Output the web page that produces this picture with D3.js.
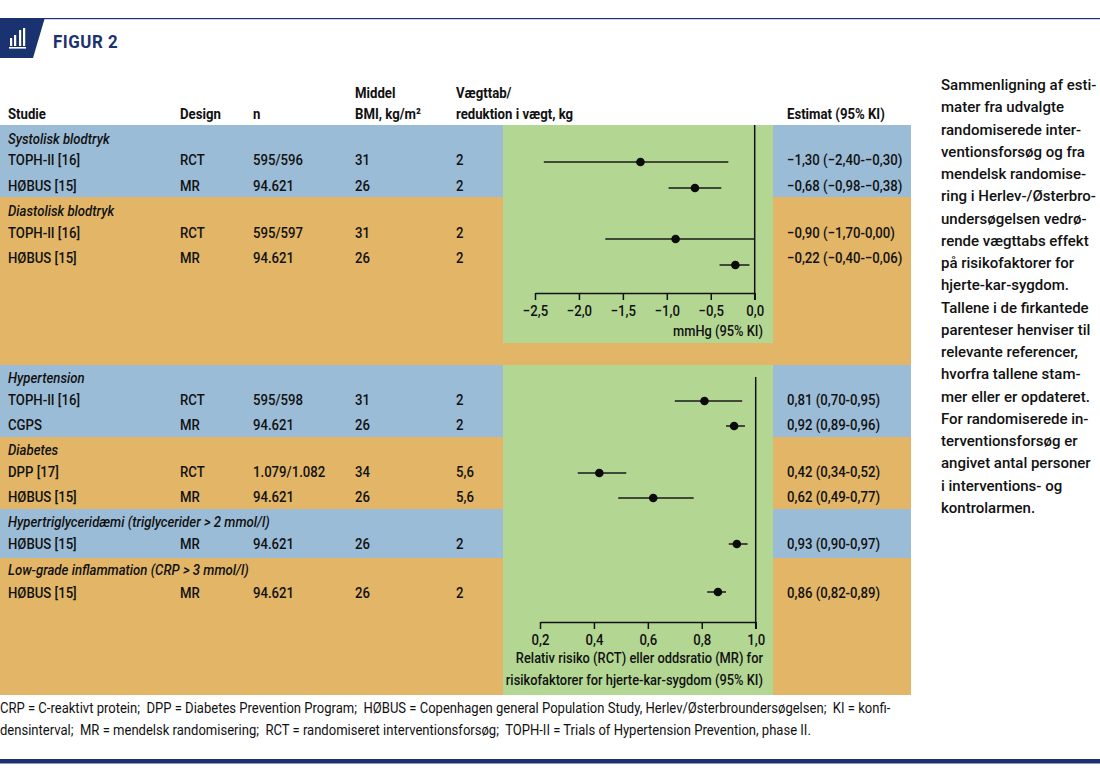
<!DOCTYPE html>
<html>
<head>
<meta charset="utf-8">
<script src="https://cdn.jsdelivr.net/npm/d3@7"></script>
<style>
  html, body { margin: 0; padding: 0; background: #fff; }
  svg { display: block; }
  text { font-family: Roboto, "Liberation Sans", sans-serif; fill: #111; }
</style>
</head>
<body>
<svg></svg>
<script>
// table rows
const rowIds = ["sys", "sys1", "sys2", "dia", "dia1", "dia2", "hyp", "hyp1", "hyp2", "dbt", "dbt1", "dbt2", "tg", "tg1", "crp", "crp1"];
const headings = [
  ["sys", "Systolisk blodtryk"],
  ["dia", "Diastolisk blodtryk"],
  ["hyp", "Hypertension"],
  ["dbt", "Diabetes"],
  ["tg", "Hypertriglyceridæmi (triglycerider > 2 mmol/l)"],
  ["crp", "Low-grade inflammation (CRP > 3 mmol/l)"]
];
const mmRows = ["sys1", "sys2", "dia1", "dia2"];
const riskRows = ["hyp1", "hyp2", "dbt1", "dbt2", "tg1", "crp1"];
const studyRows = mmRows.concat(riskRows);
const studies = ["TOPH-II [16]", "HØBUS [15]", "TOPH-II [16]", "HØBUS [15]", "TOPH-II [16]", "CGPS", "DPP [17]", "HØBUS [15]", "HØBUS [15]", "HØBUS [15]"];
const designs = ["RCT", "MR", "RCT", "MR", "RCT", "MR", "RCT", "MR", "MR", "MR"];
const ns = ["595/596", "94.621", "595/597", "94.621", "595/598", "94.621", "1.079/1.082", "94.621", "94.621", "94.621"];
const bmis = ["31", "26", "31", "26", "31", "26", "34", "26", "26", "26"];
const losses = ["2", "2", "2", "2", "2", "2", "5,6", "5,6", "2", "2"];
const estimateLabels = ["−1,30 (−2,40-−0,30)", "−0,68 (−0,98-−0,38)", "−0,90 (−1,70-0,00)", "−0,22 (−0,40-−0,06)", "0,81 (0,70-0,95)", "0,92 (0,89-0,96)", "0,42 (0,34-0,52)", "0,62 (0,49-0,77)", "0,93 (0,90-0,97)", "0,86 (0,82-0,89)"];

// forest plot values
const mmEst = [-1.30, -0.68, -0.90, -0.22];
const mmLo = [-2.40, -0.98, -1.70, -0.40];
const mmHi = [-0.30, -0.38, 0.00, -0.06];
const riskEst = [0.81, 0.92, 0.42, 0.62, 0.93, 0.86];
const riskLo = [0.70, 0.89, 0.34, 0.49, 0.90, 0.82];
const riskHi = [0.95, 0.96, 0.52, 0.77, 0.97, 0.89];
const mmTicks = [-2.5, -2, -1.5, -1, -0.5, 0];
const riskTicks = [0.2, 0.4, 0.6, 0.8, 1];

const notes = [
  "CRP = C-reaktivt protein;  DPP = Diabetes Prevention Program;  HØBUS = Copenhagen general Population Study, Herlev/Østerbroundersøgelsen;  KI = konfi-",
  "densinterval;  MR = mendelsk randomisering;  RCT = randomiseret interventionsforsøg;  TOPH-II = Trials of Hypertension Prevention, phase II."
];
const sideText = [
  "Sammenligning af esti-", "mater fra udvalgte", "randomiserede inter-", "ventionsforsøg og fra",
  "mendelsk randomise-", "ring i Herlev-/Østerbro-", "undersøgelsen vedrø-", "rende vægttabs effekt",
  "på risikofaktorer for", "hjerte-kar-sygdom.", "Tallene i de firkantede", "parenteser henviser til",
  "relevante referencer,", "hvorfra tallene stam-", "mer eller er opdateret.", "For randomiserede in-",
  "terventionsforsøg er", "angivet antal personer", "i interventions- og", "kontrolarmen."
];

const navy = "#1b3270";
const blue = "#9bbcd7";
const orange = "#e2b567";
const green = "#b3d793";

const svg = d3.select("svg").attr("width", 1100).attr("height", 770);

// no condensed font installed, so the text is squeezed horizontally
const narrow = 0.85;
const place = (sel, x, y, k = narrow) => sel
  .attr("transform", (d, i) => `translate(${typeof x === "function" ? x(d, i) : x},${typeof y === "function" ? y(d, i) : y}) scale(${k},1)`);

// text baselines and marker centres per row
const rowY = d3.scaleOrdinal()
  .domain(rowIds)
  .range([144, 165, 191, 216, 238, 263, 383, 405, 430, 455, 477, 502, 527, 549, 575, 598]);
const markY = d3.scaleOrdinal()
  .domain(studyRows)
  .range([162, 188, 239, 265, 401, 426, 473, 498, 544, 592]);

const col = { study: 8, design: 180, n: 253, bmi: 355, loss: 456, est: 787 };

// top header
svg.append("rect").attr("x", 0).attr("y", 18).attr("width", 1100).attr("height", 1.2).attr("fill", navy);
svg.append("path").attr("d", "M0,19H44.5L33,58H0Z").attr("fill", navy);
const icon = svg.append("g").attr("fill", "#fff");
icon.selectAll("rect.bar")
  .data([[10, 38, 8], [14, 35, 11], [19, 30, 16], [23, 28, 18]])
  .enter().append("rect")
  .attr("x", d => d[0]).attr("y", d => d[1])
  .attr("width", 2.2).attr("height", d => d[2]);
icon.append("rect").attr("x", 9).attr("y", 47).attr("width", 17).attr("height", 1.6);
svg.append("text")
  .call(place, 53, 48, 0.89)
  .style("font-weight", 700).style("font-size", "19px")
  .style("letter-spacing", "0.6px").style("fill", navy)
  .text("FIGUR 2");

// colour bands
const bands = [[125, 197, blue], [197, 365, orange], [365, 437, blue], [437, 509, orange], [509, 558, blue], [558, 695, orange]];
svg.append("g").selectAll("rect")
  .data(bands)
  .enter().append("rect")
  .attr("x", 0).attr("width", 911)
  .attr("y", d => d[0]).attr("height", d => d[1] - d[0])
  .attr("fill", d => d[2]);
svg.append("g").selectAll("rect")
  .data([[125, 343], [365, 695]])
  .enter().append("rect")
  .attr("x", 503).attr("width", 270)
  .attr("y", d => d[0]).attr("height", d => d[1] - d[0])
  .attr("fill", green);

// column titles
const heads = [
  [col.study, 119, "Studie"], [col.design, 119, "Design"], [col.n, 119, "n"],
  [col.bmi, 98, "Middel"], [col.bmi, 119, "BMI, kg/m²"],
  [col.loss, 98, "Vægttab/"], [col.loss, 119, "reduktion i vægt, kg"],
  [col.est, 119, "Estimat (95% KI)"]
];
svg.append("g").selectAll("text")
  .data(heads)
  .enter().append("text")
  .call(place, d => d[0], d => d[1])
  .style("font-weight", 700).style("font-size", "15.5px")
  .text(d => d[2]);

// table body
svg.append("g").selectAll("text")
  .data(headings)
  .enter().append("text")
  .call(place, col.study, d => rowY(d[0]))
  .style("font-style", "italic").style("font-weight", 500).style("font-size", "15.5px")
  .text(d => d[1]);

const columns = [[col.study, studies], [col.design, designs], [col.n, ns], [col.bmi, bmis], [col.loss, losses], [col.est, estimateLabels]];
columns.forEach(([x, values]) => {
  svg.append("g").selectAll("text")
    .data(values)
    .enter().append("text")
    .call(place, x, (d, i) => rowY(studyRows[i]))
    .style("font-size", "15.5px").style("font-weight", 500)
    .text(d => d);
});

// forest plots
const fmt = d => d3.format(".1f")(d).replace(".", ",").replace("-", "−");

function forest(opts) {
  const g = svg.append("g");
  g.append("line")
    .attr("x1", opts.x(opts.ref)).attr("x2", opts.x(opts.ref))
    .attr("y1", opts.top).attr("y2", opts.axisY + 7)
    .attr("stroke", "#111").attr("stroke-width", 1.5);

  g.selectAll("line.ci")
    .data(opts.rows)
    .enter().append("line")
    .attr("class", "ci")
    .attr("x1", (d, i) => opts.x(opts.lo[i]))
    .attr("x2", (d, i) => opts.x(opts.hi[i]))
    .attr("y1", d => markY(d))
    .attr("y2", d => markY(d))
    .attr("stroke", "#1a1a1a").attr("stroke-width", 1.5);

  g.selectAll("circle")
    .data(opts.rows)
    .enter().append("circle")
    .attr("cx", (d, i) => opts.x(opts.est[i]))
    .attr("cy", d => markY(d))
    .attr("r", 4.3)
    .attr("fill", "#0b0b0b");

  const axis = g.append("g")
    .attr("transform", `translate(0,${opts.axisY})`)
    .call(d3.axisBottom(opts.x).tickValues(opts.ticks).tickSize(7).tickSizeOuter(0).tickPadding(5).tickFormat(fmt));
  axis.select(".domain").attr("stroke", "#111").attr("stroke-width", 1.5);
  axis.selectAll(".tick line").attr("stroke", "#111").attr("stroke-width", 1.5);
  axis.selectAll(".tick text")
    .attr("fill", "#111")
    .attr("transform", `scale(${narrow},1)`)
    .style("font-family", "Roboto").style("font-weight", 500).style("font-size", "15.5px");

  g.selectAll("text.cap")
    .data(opts.caption)
    .enter().append("text")
    .attr("class", "cap")
    .call(place, 763, (d, i) => opts.captionY + i * 21.5, 0.83)
    .attr("text-anchor", "end")
    .style("font-size", "15.5px").style("font-weight", 500)
    .text(d => d);
}

forest({
  x: d3.scaleLinear().domain([-2.5, 0]).range([535, 754.7]),
  ref: 0, top: 125, axisY: 293,
  rows: mmRows, est: mmEst, lo: mmLo, hi: mmHi, ticks: mmTicks,
  caption: ["mmHg (95% KI)"], captionY: 336
});

forest({
  x: d3.scaleLinear().domain([0.2, 1]).range([540, 755.7]),
  ref: 1, top: 377, axisY: 622,
  rows: riskRows, est: riskEst, lo: riskLo, hi: riskHi, ticks: riskTicks,
  caption: ["Relativ risiko (RCT) eller oddsratio (MR) for", "risikofaktorer for hjerte-kar-sygdom (95% KI)"], captionY: 663
});

// footnote
svg.append("g").selectAll("text")
  .data(notes)
  .enter().append("text")
  .call(place, 0, (d, i) => 713 + i * 22, 0.87)
  .style("font-size", "15px")
  .style("white-space", "pre")
  .text(d => d);

svg.append("rect").attr("x", 0).attr("y", 759).attr("width", 1100).attr("height", 4.5).attr("fill", navy);

// side note
svg.append("g").selectAll("text")
  .data(sideText)
  .enter().append("text")
  .attr("x", 941).attr("y", (d, i) => 90 + i * 22.25)
  .style("font-weight", 500).style("font-size", "15px")
  .text(d => d);
</script>
</body>
</html>
